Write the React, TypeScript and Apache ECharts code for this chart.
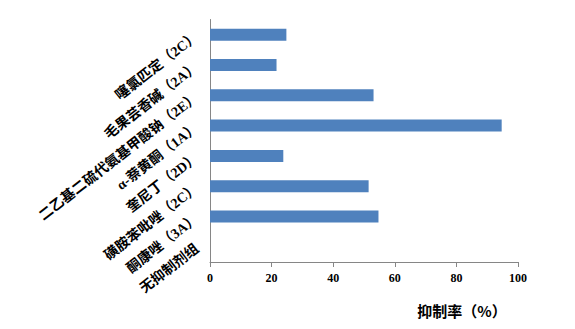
import React, { useEffect, useRef } from "react";
import * as echarts from "echarts";

const categories = [
  "噻氯匹定（2C）",
  "毛果芸香碱（2A）",
  "二乙基二硫代氨基甲酸钠（2E）",
  "α-萘黄酮（1A）",
  "奎尼丁（2D）",
  "磺胺苯吡唑（2C）",
  "酮康唑（3A）",
  "无抑制剂组",
];
const values = [24.8, 21.6, 53.1, 94.7, 23.8, 51.5, 54.7, 0];
const xTicks = { min: 0, max: 100, interval: 20 };
const xName = "抑制率（%）";

export default function App() {
  const ref = useRef<HTMLDivElement>(null);
  useEffect(() => {
    const chart = echarts.init(ref.current!, null, { renderer: "svg" });
    const serif = "'Liberation Serif', 'Noto Sans CJK SC', serif";
    chart.setOption({
      animation: false,
      backgroundColor: "#ffffff",
      grid: { left: 210, right: 57, top: 19.5, bottom: 67, outerBoundsMode: "none", containLabel: false },
      graphic: [
        {
          type: "text",
          x: 462,
          y: 310,
          style: {
            text: xName,
            fill: "#000",
            font: "bold 15px 'Noto Sans CJK SC', sans-serif",
            textAlign: "center",
            textVerticalAlign: "middle",
          },
        },
      ],
      xAxis: {
        type: "value",
        min: xTicks.min,
        max: xTicks.max,
        interval: xTicks.interval,
        splitLine: { show: false },
        axisLine: { show: true, lineStyle: { color: "#868686", width: 1 } },
        axisTick: { show: true, length: 5, lineStyle: { color: "#868686" } },
        axisLabel: {
          color: "#000",
          fontFamily: serif,
          fontWeight: "bold",
          fontSize: 12,
          margin: 10,
        },
      },
      yAxis: {
        type: "category",
        data: categories,
        inverse: true,
        axisLine: { show: true, lineStyle: { color: "#868686", width: 1 } },
        axisTick: { show: false },
        axisLabel: {
          rotate: 38,
          color: "#000",
          fontFamily: serif,
          fontWeight: "bold",
          fontSize: 14,
          margin: 13,
          interval: 0,
        },
      },
      series: [
        {
          type: "bar",
          data: values,
          barWidth: 12,
          itemStyle: { color: "#4F81BD" },
        },
      ],
    });
    return () => chart.dispose();
  }, []);
  return <div ref={ref} style={{ width: 575, height: 329, position: "absolute", left: 0, top: 0 }} />;
}
